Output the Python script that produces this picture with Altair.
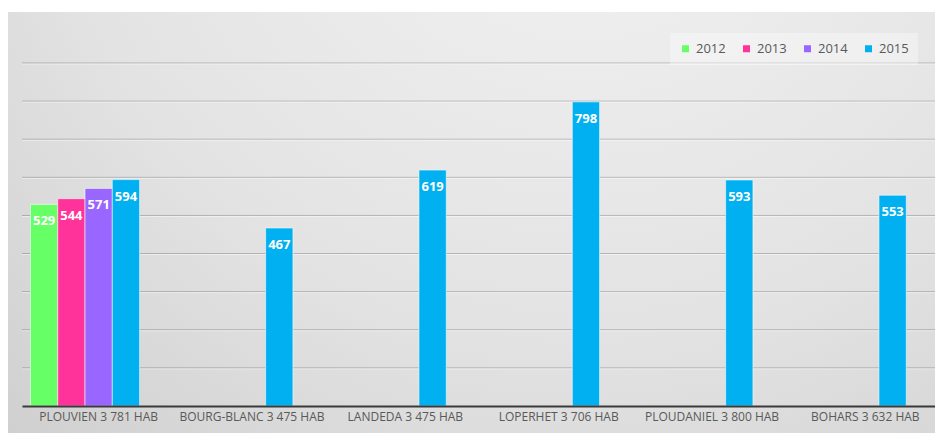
import altair as alt
import pandas as pd

# Municipalities on the x axis (with population) and yearly values
communes = [
    "PLOUVIEN 3 781 HAB",
    "BOURG-BLANC 3 475 HAB",
    "LANDEDA 3 475 HAB",
    "LOPERHET 3 706 HAB",
    "PLOUDANIEL 3 800 HAB",
    "BOHARS 3 632 HAB",
]
years = ["2012", "2013", "2014", "2015"]
year_colors = ["#66ff66", "#ff3399", "#9966ff", "#00b0f0"]

plouvien_values = [529, 544, 571, 594]          # 2012..2015
values_2015 = [594, 467, 619, 798, 593, 553]    # all municipalities, 2015

grid_values = [100, 200, 300, 400, 500, 600, 700, 800, 900]

rows = []
for y, v in zip(years[:3], plouvien_values[:3]):
    rows.append({"commune": communes[0], "annee": y, "valeur": v})
for c, v in zip(communes, values_2015):
    rows.append({"commune": c, "annee": "2015", "valeur": v})
df = pd.DataFrame(rows)
grid_df = pd.DataFrame({"valeur": grid_values})

FONT = "Open Sans"
W, H = 913, 343

# slot layout inside each category: four years plus one empty slot
slots = years + ["_"]

x_enc = alt.X(
    "commune:N",
    sort=communes,
    scale=alt.Scale(range=[0, 920], paddingInner=0, paddingOuter=0),
    axis=alt.Axis(
        title=None,
        labelAngle=0,
        labelFont=FONT,
        labelFontSize=12,
        labelColor="#595959",
        labelPadding=5,
        labelLimit=0,
        ticks=False,
        domainColor="#3a3a3a",
        domainWidth=2,
        zindex=1,
    ),
)
xoff_enc = alt.XOffset(
    "annee:N",
    scale=alt.Scale(domain=slots, paddingInner=0, paddingOuter=0.31),
)
y_scale = alt.Scale(domain=[0, 900], nice=False)
y_enc = alt.Y("valeur:Q", scale=y_scale, axis=None)

background = alt.Chart(alt.Data(values=[{}])).mark_rect(
    color=alt.RadialGradient(
        gradient="radial",
        x1=0.62, y1=0.05, r1=0.0,
        x2=0.62, y2=0.05, r2=0.95,
        stops=[
            alt.GradientStop(offset=0, color="#f4f4f4"),
            alt.GradientStop(offset=0.6, color="#e3e3e3"),
            alt.GradientStop(offset=1, color="#cecece"),
        ],
    )
).encode(
    x=alt.value(-14), x2=alt.value(W),
    y=alt.value(-51), y2=alt.value(H + 27),
)

# horizontal gridlines, drawn above the backdrop and below the bars
grid = alt.Chart(grid_df).mark_rule(
    color="#000000", opacity=0.22, strokeWidth=1
).encode(
    y=alt.Y("valeur:Q", scale=y_scale, axis=None),
    x=alt.value(0),
    x2=alt.value(W),
)
grid_light = alt.Chart(grid_df).mark_rule(
    color="#ffffff", opacity=0.5, strokeWidth=1, yOffset=1
).encode(
    y=alt.Y("valeur:Q", scale=y_scale, axis=None),
    x=alt.value(0),
    x2=alt.value(W),
)

bars = alt.Chart(df).mark_bar(
    stroke="#ffffff", strokeOpacity=0.55, strokeWidth=1
).encode(
    x=x_enc,
    xOffset=xoff_enc,
    y=y_enc,
    color=alt.Color(
        "annee:N",
        scale=alt.Scale(domain=years, range=year_colors),
        legend=alt.Legend(
            title=None,
            orient="none",
            direction="horizontal",
            legendX=648,
            legendY=-30,
            symbolType="square",
            symbolSize=49,
            symbolStrokeWidth=0,
            labelFont=FONT,
            labelFontSize=13,
            labelColor="#595959",
            labelOffset=4,
            columnPadding=14,
            padding=9,
            fillColor="rgba(255,255,255,0.35)",
        ),
    ),
)

labels = alt.Chart(df).mark_text(
    font=FONT,
    fontSize=13,
    fontWeight="bold",
    color="#ffffff",
    baseline="middle",
    dy=17,
).encode(
    x=alt.X("commune:N", sort=communes),
    xOffset=alt.XOffset("annee:N"),
    y="valeur:Q",
    text="valeur:Q",
)

chart = (
    alt.layer(background, grid, grid_light, bars, labels)
    .properties(
        width=W,
        height=H,
        autosize=alt.AutoSizeParams(type="none"),
        padding={"left": 22, "top": 63, "right": 0, "bottom": 27},
    )
    .configure_view(stroke=None)
    .configure(background="#ffffff")
)

chart.save("out.html", embed_options={"renderer": "svg", "actions": False})
